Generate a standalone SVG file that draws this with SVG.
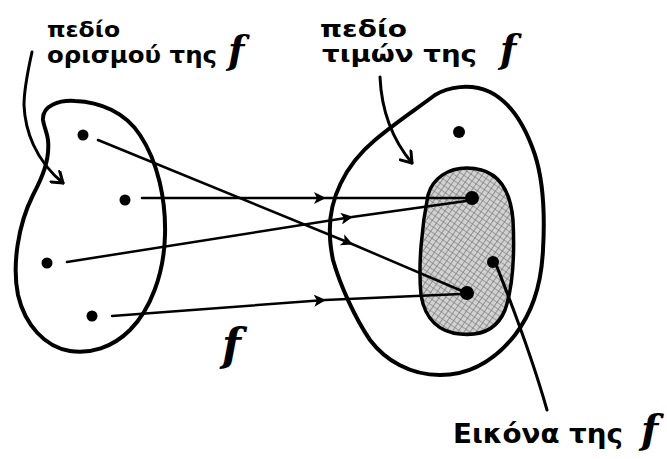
<svg xmlns="http://www.w3.org/2000/svg" width="667" height="459" viewBox="0 0 667 459">
<style>
.blob{fill:none;stroke:#000;stroke-width:4;stroke-linecap:round;stroke-linejoin:round}
.ptr{fill:none;stroke:#000;stroke-width:3;stroke-linecap:round}
.conn{fill:none;stroke:#000;stroke-width:2.5;stroke-linecap:round}
.dot{fill:#000}
.lbl{font-family:"DejaVu Sans","Liberation Sans",sans-serif;font-weight:bold;fill:#000}
.fx{font-family:"DejaVu Serif","Liberation Serif",serif;font-style:italic;font-weight:bold}
</style>
<defs>
<pattern id="hatch" width="5" height="5" patternUnits="userSpaceOnUse" patternTransform="rotate(35)">
<rect width="5" height="5" fill="#d2d2d2"/>
<line x1="0" y1="0" x2="0" y2="5" stroke="#444" stroke-width="0.9"/>
<line x1="0" y1="2.5" x2="5" y2="2.5" stroke="#777" stroke-width="0.6"/>
</pattern>
<marker id="mid" markerUnits="userSpaceOnUse" markerWidth="14" markerHeight="12" refX="11" refY="6" orient="auto">
<path d="M0,0 L12,6 L0,12 L3,6 Z" fill="#000"/>
</marker>
<marker id="open" markerUnits="userSpaceOnUse" markerWidth="16" markerHeight="16" refX="12" refY="8" orient="auto">
<path d="M2,1 L12,8 L2,15" fill="none" stroke="#000" stroke-width="3" stroke-linecap="round" stroke-linejoin="round"/>
</marker>
</defs>

<g id="domain">
<path class="blob" d="M43,120 C42,105 60,100 75,101 C100,102 125,112 140,135 C158,162 166,200 165,235 C164,275 150,310 130,330 C112,348 90,354 70,351 C45,347 25,325 18,295 C12,265 18,225 33,195 C42,178 50,160 48,140 C47,132 44,127 43,120 Z"/>
<circle class="dot" cx="83" cy="135" r="5.5"/>
<circle class="dot" cx="125" cy="200" r="5.5"/>
<circle class="dot" cx="47" cy="263" r="5.5"/>
<circle class="dot" cx="92" cy="316" r="5.5"/>
</g>

<g id="codomain">
<path class="blob" d="M330,235 C328,200 345,165 375,140 C395,123 415,110 435,95 C448,87 470,83 490,92 C510,102 525,125 535,155 C543,180 545,215 543,250 C541,290 530,315 515,335 C495,360 470,375 440,375 C410,375 385,360 370,340 C355,318 340,285 333,260 C331,250 330,242 330,235 Z"/>
<circle class="dot" cx="459" cy="132" r="6"/>
</g>

<g id="image">
<path d="M467,168 C495,168 510,185 513,220 C515,260 512,290 505,310 C497,330 480,336 460,334 C440,332 425,320 421,295 C418,265 422,225 428,195 C433,178 448,168 467,168 Z" fill="url(#hatch)" stroke="#000" stroke-width="3.5"/>
<circle class="dot" cx="472" cy="198" r="7"/>
<circle class="dot" cx="493" cy="262" r="6"/>
<circle class="dot" cx="467" cy="293" r="7"/>
</g>

<g id="connectors">
<path class="conn" d="M98,140 L352,244 L462,291" marker-mid="url(#mid)"/>
<path class="conn" d="M142,198 L325,198 L466,198" marker-mid="url(#mid)"/>
<path class="conn" d="M67,262 L352,217 L466,201" marker-mid="url(#mid)"/>
<path class="conn" d="M112,316 L325,300 L461,294" marker-mid="url(#mid)"/>
<path class="ptr" d="M32,52 C28,70 24,90 24,105 C25,130 35,160 63,183" marker-end="url(#open)"/>
<path class="ptr" d="M380,77 C381,100 386,132 412,163" marker-end="url(#open)"/>
<path class="ptr" d="M497,267 C510,300 530,350 547,410"/>
</g>

<g id="label-domain">
<text class="lbl" x="47" y="37" font-size="21" textLength="73" lengthAdjust="spacingAndGlyphs">πεδίο</text>
<text class="lbl" x="47" y="63" font-size="23"><tspan textLength="170" lengthAdjust="spacingAndGlyphs">ορισμού της</tspan><tspan class="fx" x="228" font-size="38">f</tspan></text>
</g>

<g id="label-codomain">
<text class="lbl" x="320" y="37" font-size="23" textLength="87" lengthAdjust="spacingAndGlyphs">πεδίο</text>
<text class="lbl" x="322" y="62" font-size="23"><tspan textLength="155" lengthAdjust="spacingAndGlyphs">τιμών της</tspan><tspan class="fx" x="500" font-size="38">f</tspan></text>
</g>

<g id="label-f">
<text class="lbl fx" x="222" y="360" font-size="44">f</text>
</g>

<g id="label-image">
<text class="lbl" x="453" y="443" font-size="26"><tspan textLength="170" lengthAdjust="spacingAndGlyphs">Εικόνα της</tspan><tspan class="fx" x="641" font-size="40">f</tspan></text>
</g>
</svg>
